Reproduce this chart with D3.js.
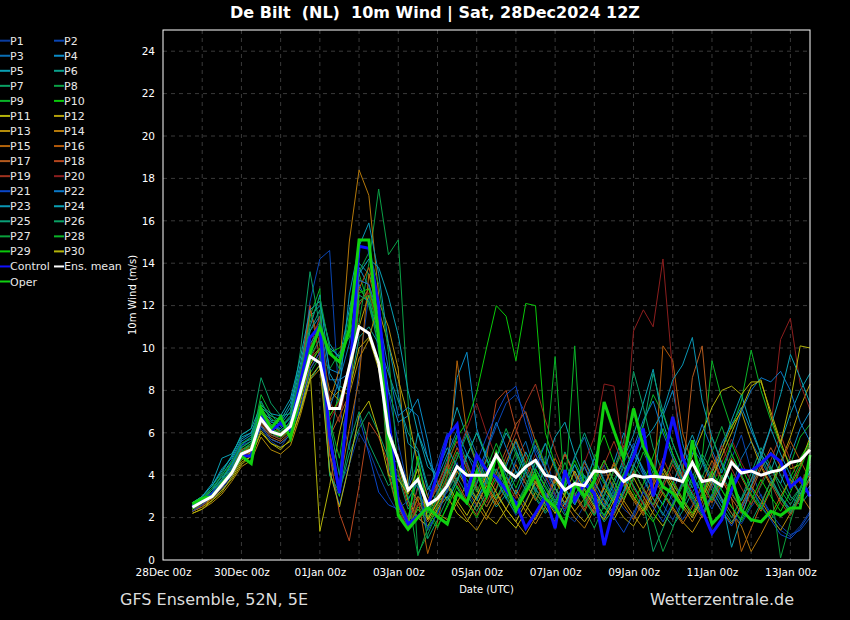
<!DOCTYPE html>
<html lang="en">
<head>
<meta charset="utf-8">
<title>De Bilt 10m Wind</title>
<script src="https://cdn.jsdelivr.net/npm/d3@7"></script>
<style>
    body { margin: 0; background: #000; }
    text { font-family: "DejaVu Sans", sans-serif; }
</style>
</head>
<body>
<script type="text/javascript">

    // run 28Dec2024 12Z, first step +6h, 6-hourly
    var firstTime = Date.UTC(2024, 11, 28, 18);
    var stepHours = 6;

    var yTicks = [0, 2, 4, 6, 8, 10, 12, 14, 16, 18, 20, 22, 24];
    var xTickLabels = ["28Dec 00z", "30Dec 00z", "01Jan 00z", "03Jan 00z", "05Jan 00z",
                       "07Jan 00z", "09Jan 00z", "11Jan 00z", "13Jan 00z"];

    var P1 = [2.3,2.6,2.9,3.3,3.9,4.8,5.3,6.2,5.6,5.3,6.0, 7.5,9.8,10.8,6.0,3.5,4.5,6.0,5.2,4.0,3.0,2.2,1.6,2.0, 1.5,2.2,3.4,4.6,3.2,2.5,3.8,4.3,3.0,2.1,2.8,3.6,4.9,3.4,2.2,1.8,2.6,3.9,4.5,3.1,2.4,2.0,3.3,4.2,3.6,2.8,1.9,2.6,3.4,4.1,2.9,2.2,1.7,2.5,3.1,2.0,1.4,1.1,1.6,2.3];
    var P2 = [2.4,2.8,3.2,3.8,4.4,5.4,5.6,6.9,6.4,6.2,6.8, 8.6,12.2,14.2,14.6,7.2,5.2,9.0,12.5,9.8,7.9,5.5,3.4,4.6, 3.0,4.6,6.0,5.3,4.4,3.6,5.1,6.3,7.4,7.8,6.9,5.2,4.3,3.1,2.5,3.4,4.0,2.7,2.0,3.1,4.6,5.5,4.1,3.3,2.6,1.9,2.8,3.9,3.2,2.4,3.5,4.8,5.9,4.2,3.0,2.2,1.6,1.2,1.4,2.0];
    var P3 = [2.5,2.7,3.1,3.5,4.3,5.2,5.0,6.3,5.9,5.8,6.6, 8.0,10.5,11.2,8.5,8.5,10.2,13.0,12.0,10.5,4.5,2.5,1.6,3.5, 2.0,2.9,3.7,4.8,6.1,5.0,3.8,2.9,3.5,4.7,5.6,4.1,3.0,2.3,3.6,4.9,5.8,4.4,3.2,2.6,3.9,5.0,4.0,2.9,2.1,3.2,4.5,5.3,4.6,3.5,2.7,3.4,4.8,5.6,4.7,3.8,3.0,2.4,2.9,3.5];
    var P4 = [2.6,2.9,3.3,4.0,4.7,5.6,5.9,7.0,6.5,6.4,7.0, 8.8,10.8,11.5,9.0,8.8,11.0,13.8,12.9,11.2,8.0,6.5,6.8,7.6, 5.6,3.1,4.5,8.6,9.8,6.2,4.8,3.7,4.4,5.6,4.2,3.3,2.8,3.9,5.0,4.1,3.0,2.2,3.4,4.6,6.0,5.2,4.3,3.5,6.8,8.0,5.5,4.0,3.1,4.2,5.5,6.4,7.2,6.1,5.0,4.3,3.6,4.9,6.2,7.0];
    var P5 = [2.7,3.0,3.6,4.8,5.0,5.8,6.0,7.2,6.8,6.6,7.4, 9.2,11.5,12.0,10.2,9.5,11.8,14.0,13.5,12.2,6.5,4.6,3.5,6.0, 4.4,4.0,5.6,7.2,5.8,4.5,3.6,4.8,6.0,5.2,4.1,3.2,4.4,5.8,6.5,5.0,3.9,3.0,2.5,3.6,4.8,5.9,7.4,9.0,6.5,5.0,4.0,3.1,2.4,3.6,5.2,6.6,7.8,6.3,5.0,4.2,5.5,6.9,8.0,8.8];
    var P6 = [2.5,2.9,3.4,3.9,4.5,5.5,5.7,7.5,6.6,6.0,6.4, 7.0,8.5,9.2,5.5,8.2,8.0,10.5,11.0,10.2,8.8,7.5,6.0,5.2, 3.5,2.7,3.2,4.1,5.0,4.4,3.3,2.5,3.1,4.2,3.6,2.9,2.2,2.8,3.7,4.5,3.4,2.6,1.8,2.4,3.3,4.5,3.8,2.9,2.2,1.6,2.3,3.2,4.0,3.3,2.5,1.8,2.4,3.5,4.3,5.1,4.0,3.0,2.6,3.2];
    var P7 = [2.6,3.0,3.5,4.1,4.9,5.9,6.2,8.6,7.4,6.8,6.9, 9.8,13.6,11.0,5.0,3.2,5.5,7.0,5.5,4.5,3.5,4.0,2.4,3.0, 2.6,3.5,4.8,5.9,4.6,3.4,2.5,3.3,4.6,5.7,4.4,3.4,2.6,3.8,5.1,4.0,2.9,2.1,3.0,4.3,5.6,8.9,7.2,5.3,4.1,3.2,2.5,3.6,4.8,3.9,2.8,2.0,2.9,4.1,5.3,4.4,3.3,2.6,3.4,4.6];
    var P8 = [2.4,2.7,3.1,3.6,4.0,4.8,5.0,6.5,5.9,5.7,6.1, 7.2,8.8,9.6,9.0,9.8,10.5,11.2,14.0,17.5,14.4,15.1,7.5,0.3, 1.2,2.3,3.5,4.4,3.8,2.9,3.6,4.9,6.2,5.0,3.8,3.0,2.3,3.1,4.0,3.2,2.4,1.5,2.6,3.8,4.6,3.5,2.7,1.9,0.4,1.5,2.8,3.9,5.0,4.2,3.3,2.5,1.8,2.6,3.5,4.4,3.6,2.8,3.4,4.2];
    var P9 = [2.5,2.8,3.2,3.7,4.3,5.2,5.5,7.8,6.9,6.3,6.7, 8.5,11.5,12.8,4.0,3.0,9.2,13.5,12.0,10.2,4.0,2.2,1.8,2.5, 2.1,1.5,2.6,3.8,4.9,6.0,5.0,4.1,3.2,2.5,3.4,4.6,5.5,4.3,3.3,2.6,3.5,4.4,3.6,2.7,3.8,5.0,6.4,7.8,6.9,5.5,4.4,3.6,4.8,9.4,7.6,6.2,7.5,9.9,8.0,6.6,5.4,4.5,5.8,6.4];
    var P10 = [2.6,2.9,3.3,3.8,4.6,5.3,5.6,7.0,6.3,6.1,6.5, 8.0,10.0,10.8,9.8,10.0,10.5,12.8,12.2,10.8,5.5,3.0,2.0,4.0, 2.2,3.0,4.4,5.8,6.5,7.9,10.0,12.0,11.5,9.4,12.1,12.0,6.0,4.5,3.4,2.6,3.5,4.8,5.9,4.6,3.5,2.8,3.6,4.9,6.2,5.0,3.9,3.0,2.2,3.1,4.3,5.5,4.4,3.4,2.5,1.9,2.8,3.9,4.8,5.6];
    var P11 = [2.3,2.5,2.8,3.2,3.9,4.6,4.9,6.0,5.5,5.3,5.6, 7.0,9.0,1.35,3.5,6.0,8.0,10.0,10.5,9.0,6.5,4.5,2.8,2.0, 1.6,2.4,3.0,2.2,1.8,2.6,3.5,2.8,2.0,1.5,2.3,3.2,2.5,1.8,2.7,3.6,4.4,3.3,2.5,1.9,2.8,3.9,3.0,2.2,1.6,2.5,3.7,4.9,6.0,7.2,8.0,8.2,7.8,8.4,8.4,7.0,5.6,4.3,4.5,5.8];
    var P12 = [2.4,2.6,2.9,3.4,4.0,4.7,5.1,6.3,5.7,5.5,5.9, 7.4,9.2,10.0,8.0,7.5,9.2,11.0,12.5,11.8,10.2,8.5,6.8,4.5, 3.0,2.2,1.9,2.7,3.6,2.9,2.1,1.7,2.4,3.3,2.6,1.9,2.8,3.7,3.0,2.3,1.8,2.5,3.4,2.7,2.0,1.6,2.4,3.5,4.4,3.6,2.8,2.1,3.0,4.1,5.2,6.3,7.0,5.6,4.4,3.5,4.6,5.8,7.2,8.3];
    var P13 = [2.2,2.4,2.7,3.1,3.7,4.4,4.7,5.8,5.2,5.0,5.4, 6.8,8.5,9.0,7.5,8.0,7.8,9.5,10.4,12.2,11.0,9.0,3.5,2.8, 1.9,2.7,3.5,2.6,1.9,1.4,2.2,3.1,2.4,1.8,1.2,2.0,2.9,3.8,3.0,2.3,2.9,3.8,4.7,3.7,2.8,2.1,1.5,2.3,3.2,2.5,1.8,1.3,2.1,3.0,2.3,1.7,2.6,3.5,2.8,2.0,1.4,2.2,3.1,3.9];
    var P14 = [2.5,2.8,3.1,3.6,4.2,5.1,5.3,6.8,6.1,5.9,6.2, 7.6,9.0,9.8,7.5,9.0,15.0,18.4,17.2,12.5,5.0,2.6,1.6,2.4, 1.8,2.5,3.3,4.2,3.4,2.6,1.9,2.8,3.9,3.1,2.3,1.7,2.5,3.4,2.7,2.0,1.5,2.4,3.5,4.5,3.6,2.8,2.1,3.0,4.1,3.3,2.5,1.8,2.7,3.7,2.9,2.2,1.6,0.4,1.2,2.1,3.0,3.8,3.1,2.4];
    var P15 = [2.3,2.5,2.9,3.4,4.0,4.9,5.2,6.7,6.0,5.8,6.1, 7.8,11.8,10.2,5.0,3.5,6.2,8.5,13.5,11.5,5.0,2.5,1.8,2.9, 0.3,1.8,4.0,9.4,6.0,4.5,3.5,2.6,3.4,4.5,3.6,2.8,3.7,4.8,3.9,3.0,2.3,3.2,4.3,3.4,2.6,1.9,2.8,3.9,3.1,2.4,1.7,2.5,3.6,4.7,3.8,2.9,0.4,1.5,2.6,3.7,2.9,2.2,3.0,3.9];
    var P16 = [2.4,2.7,3.0,3.5,4.1,5.0,5.4,6.6,6.2,6.0,6.4, 8.2,10.5,11.0,6.8,7.5,8.5,12.8,13.8,12.0,6.0,3.0,1.7,3.0, 2.3,3.1,4.2,5.3,4.3,3.3,2.5,3.4,4.6,5.7,4.6,3.6,2.8,3.8,5.0,4.0,3.1,2.4,3.5,4.6,3.7,2.9,2.2,3.2,10.1,9.4,6.0,4.5,3.5,2.7,3.6,4.8,3.9,3.0,2.3,3.3,4.5,5.6,4.7,3.8];
    var P17 = [2.3,2.6,3.0,3.6,4.2,4.9,5.1,6.4,5.8,5.6,6.0, 7.5,9.5,10.0,5.8,6.8,7.8,12.0,12.8,11.0,4.2,2.2,1.4,2.6, 2.8,3.6,4.5,3.7,2.8,2.1,3.0,4.1,5.2,6.4,7.0,5.6,4.4,3.4,2.6,3.5,4.6,3.7,2.8,2.1,3.1,4.2,3.4,2.6,3.6,4.8,3.9,8.6,10.1,5.0,3.8,2.9,2.2,3.2,4.3,5.3,4.4,3.5,4.4,5.5];
    var P18 = [2.5,2.8,3.2,3.7,4.3,5.2,5.4,7.2,6.4,6.0,6.3, 8.6,12.0,9.5,5.0,2.2,0.9,3.5,6.5,5.8,4.5,4.2,2.6,2.0, 2.6,3.4,4.3,3.5,2.7,3.6,4.8,7.5,8.0,6.2,4.9,3.8,2.9,3.9,5.0,4.0,3.0,2.2,3.1,4.2,5.4,4.3,3.3,2.5,3.4,4.5,3.6,2.7,2.0,2.9,3.9,3.1,2.4,3.4,4.5,3.6,2.7,2.1,2.9,3.8];
    var P19 = [2.4,2.6,3.0,3.5,4.1,4.8,5.2,6.5,5.9,5.7,6.2, 7.8,10.0,11.5,7.5,6.5,9.2,13.2,13.0,11.5,5.8,3.0,1.9,3.4, 2.7,3.5,4.6,5.6,4.5,3.5,2.7,3.7,4.9,6.0,7.4,8.3,6.6,5.2,4.0,3.1,2.4,3.4,4.5,5.6,4.4,3.4,2.6,3.6,4.8,3.8,2.9,2.2,3.2,4.3,5.4,4.3,3.4,2.6,3.6,4.7,5.9,4.7,3.6,4.5];
    var P20 = [2.5,2.7,3.1,3.6,4.2,5.0,5.3,6.6,6.0,5.8,6.2, 7.6,9.4,10.5,6.6,7.5,8.8,12.2,12.6,11.0,5.0,2.4,1.5,2.7, 2.0,2.8,3.9,5.0,6.2,7.4,6.0,4.8,3.7,2.9,3.9,5.0,4.0,3.1,2.4,3.4,4.6,5.8,8.3,8.2,4.9,10.8,11.8,11.0,14.2,8.8,4.0,3.2,2.5,3.5,4.6,5.7,4.6,3.7,4.8,6.2,10.4,11.4,8.3,7.1];
    var P21 = [2.3,2.6,3.0,3.4,4.0,4.9,5.2,6.3,5.7,5.5,5.9, 7.2,9.0,9.8,4.2,2.6,4.5,6.8,5.0,3.2,2.6,2.4,2.8,3.8, 1.4,2.2,3.3,4.4,3.5,4.6,5.8,6.9,7.8,8.2,6.4,5.0,3.9,3.0,2.3,3.3,4.4,3.5,2.6,2.0,1.3,2.2,3.2,2.5,1.8,2.7,3.7,2.9,2.2,3.1,2.3,1.6,2.5,3.4,2.6,1.9,1.2,1.0,1.5,2.2];
    var P22 = [2.5,2.8,3.2,3.8,4.5,5.4,5.8,6.9,6.3,6.2,6.7, 8.4,10.2,10.9,7.2,8.5,8.8,13.2,13.0,11.5,9.0,6.8,7.2,6.8, 4.8,3.9,5.0,6.1,5.0,4.0,5.2,6.5,5.3,4.2,3.3,4.3,5.5,4.4,3.4,2.6,3.6,4.8,3.8,2.9,4.0,5.3,6.6,7.5,6.0,4.8,3.8,5.0,6.4,5.2,4.1,5.4,7.0,8.0,8.6,8.4,8.9,8.0,6.5,5.6];
    var P23 = [2.6,3.0,3.5,4.3,4.8,5.7,6.0,7.1,6.6,6.5,7.2, 9.0,11.0,12.5,8.8,8.0,12.5,14.8,15.9,13.5,10.2,7.8,5.5,5.1, 3.3,4.2,5.3,4.4,3.5,2.8,3.8,5.0,4.0,3.1,4.2,5.4,4.3,3.4,2.6,3.6,4.7,3.7,2.9,2.2,3.2,4.4,5.6,6.2,7.0,8.5,9.2,10.5,7.5,5.8,4.5,3.6,2.8,3.8,5.0,6.2,5.0,4.0,3.1,4.2];
    var P24 = [2.7,3.0,3.5,4.2,4.9,5.9,6.2,7.3,6.9,6.8,7.6, 9.5,11.8,12.2,10.0,9.6,11.0,13.5,14.2,13.8,12.4,10.6,8.0,6.0, 4.8,3.6,2.8,3.7,4.9,6.0,4.8,3.8,2.9,3.9,5.1,4.1,3.2,2.5,3.4,4.5,3.6,2.8,2.1,3.0,4.1,5.2,4.2,3.3,2.6,3.6,4.8,5.9,4.7,3.7,2.9,0.6,2.0,3.5,4.8,6.3,7.8,9.7,8.6,7.4];
    var P25 = [2.5,2.8,3.3,3.8,4.4,5.3,5.6,7.0,6.4,6.1,6.5, 8.2,10.8,11.8,6.5,4.0,8.2,12.5,12.2,10.5,4.8,2.6,1.7,4.8, 2.3,3.2,4.3,3.4,2.6,3.6,4.7,3.8,2.9,2.2,3.2,4.3,3.5,2.7,3.7,4.8,6.0,4.8,3.7,2.8,3.8,5.0,6.3,8.8,7.0,5.5,4.3,3.4,4.5,5.8,4.6,3.6,2.8,3.8,4.9,3.9,3.0,2.3,3.3,4.4];
    var P26 = [2.4,2.7,3.1,3.7,4.3,5.1,5.5,6.8,6.2,5.9,6.3, 7.9,9.6,10.4,4.0,3.2,5.0,6.2,7.0,6.0,4.8,4.6,2.9,3.6, 1.0,1.9,2.9,3.9,3.1,2.3,3.2,4.3,3.4,2.6,3.5,4.6,3.7,2.8,2.1,3.0,4.0,3.2,2.4,3.3,4.4,3.5,2.7,0.4,1.5,2.6,3.6,2.8,2.1,3.0,4.0,3.2,2.4,1.8,2.7,3.7,2.9,2.2,3.0,3.9];
    var P27 = [2.6,2.9,3.4,4.0,4.6,5.5,5.8,7.4,6.7,6.3,6.8, 8.8,11.2,12.4,10.0,9.0,11.5,13.6,14.5,13.0,9.8,4.0,3.0,0.2, 1.5,2.6,3.7,4.8,5.9,4.7,3.7,2.9,3.9,5.1,4.1,3.2,2.5,3.5,4.6,3.6,2.8,2.1,3.1,4.2,5.3,4.3,3.3,2.6,3.6,4.7,3.7,2.9,3.9,5.1,6.3,5.0,4.0,3.1,2.4,3.4,0.1,1.8,3.3,4.6];
    var P28 = [2.5,2.8,3.2,3.7,4.3,5.1,5.4,6.9,6.2,6.0,6.4, 8.0,10.0,10.7,6.6,4.8,8.0,12.2,12.5,10.8,4.8,2.2,1.5,2.4, 2.0,2.9,4.0,5.1,4.1,3.2,4.3,5.5,4.4,3.4,4.5,5.7,4.5,9.6,3.0,10.1,2.5,3.6,4.7,3.7,2.9,3.9,5.1,4.1,3.2,2.5,3.5,4.6,3.7,2.8,3.8,5.0,4.0,3.1,2.4,3.4,4.5,3.6,4.6,5.6];
    var P29 = [2.4,2.7,3.0,3.6,4.2,5.0,5.3,6.7,6.0,5.8,6.2, 7.6,9.3,10.0,6.8,7.6,8.6,12.6,12.8,11.2,5.2,2.8,1.8,4.9, 2.4,1.6,2.5,3.5,2.7,2.0,2.9,3.9,3.1,2.3,3.2,4.3,3.4,2.6,3.6,4.7,3.7,2.8,2.1,3.0,4.1,3.2,2.4,1.8,2.7,3.7,2.9,2.2,3.1,4.2,3.3,2.5,1.9,2.8,3.8,3.0,2.3,3.2,4.3,5.4];
    var P30 = [2.2,2.4,2.8,3.3,3.8,4.5,4.9,6.1,5.5,5.2,5.7, 7.0,8.6,9.2,4.2,2.5,4.5,6.8,7.5,6.0,4.0,3.8,3.1,4.3, 1.9,2.7,3.6,2.8,2.1,3.0,4.0,3.2,2.4,1.8,2.7,3.7,2.9,2.2,3.1,4.2,3.3,2.5,1.9,2.8,3.8,3.0,2.3,3.2,4.3,3.4,2.6,2.0,2.9,3.9,4.9,6.0,7.1,8.2,8.5,6.8,5.5,7.5,10.1,10.0];

    var control = [2.5,2.8,3.1,3.6,4.2,4.9,4.9,6.75,6.1,6.45,6.1, 8.35,10.5,11.0,5.8,3.15,8.35,14.8,14.7,12.0,6.8,2.8,1.7,2.05, 2.5,4.1,5.8,6.4,3.0,4.95,4.25,3.9,3.3,2.7,1.5,2.2,3.0,1.5,4.25,2.8,3.6,3.15,0.7,2.5,3.8,4.9,6.2,3.0,4.5,6.75,4.8,3.9,2.35,1.25,1.9,3.3,4.25,4.2,4.55,5.0,4.65,3.45,3.85,3.0];
    var oper = [2.65,2.9,3.0,3.6,4.15,4.9,4.55,7.15,6.2,6.75,5.75, 7.9,9.75,11.0,9.75,9.35,10.85,15.1,15.1,10.4,6.0,2.1,1.45,2.0, 2.5,2.05,1.7,3.15,2.7,4.15,3.05,5.0,3.6,2.35,3.2,4.0,2.9,2.5,1.65,3.6,3.0,3.75,7.45,6.1,4.8,7.15,5.35,4.4,3.45,3.15,2.5,5.65,3.3,1.7,2.2,3.9,2.35,1.9,1.8,2.3,2.1,2.45,2.45,4.95];
    var ensMean = [2.49,2.75,2.99,3.54,4.1,5.0,5.2,6.65,6.05,5.9,6.3, 7.9,9.6,9.3,7.15,7.15,9.1,11.0,10.7,9.3,6.0,4.7,3.3,3.8, 2.6,2.9,3.5,4.4,4.0,4.0,4.0,4.95,4.25,3.9,4.4,4.7,4.0,3.9,3.3,3.6,3.5,4.2,4.15,4.25,3.7,4.0,3.9,3.95,3.9,3.85,3.7,4.6,3.7,3.8,3.5,4.6,4.1,4.2,4.0,4.15,4.25,4.6,4.7,5.2];

    var members = [P1, P2, P3, P4, P5, P6, P7, P8, P9, P10, P11, P12, P13, P14, P15,
                   P16, P17, P18, P19, P20, P21, P22, P23, P24, P25, P26, P27, P28, P29, P30];
    var memberColors = ["#0a3ca0", "#0a46b4", "#0a6eb4", "#0a8cc8", "#0aa0b4", "#0aa08c",
                        "#0aa064", "#0aa046", "#0ab428", "#0ac80a", "#b4b40a", "#b4a00a",
                        "#b48c0a", "#b4780a", "#b4640a", "#b45a0a", "#b45a1e", "#b4461e",
                        "#a0321e", "#8c1e1e", "#0a46c8", "#0a78c8", "#0a96b4", "#0aa0b4",
                        "#0aa078", "#0aa064", "#0aa03c", "#0ab428", "#0ac80a", "#b4b40a"];

    var width = 850;
    var height = 620;
    var plotLeft = 163, plotRight = 810, plotTop = 30, plotBottom = 560;

    var svg = d3.select("body").append("svg")
    .attr("width", width)
    .attr("height", height)
    .style("background", "#000");

    var x = d3.scaleUtc()
    .domain([new Date(Date.UTC(2024, 11, 28, 0)), new Date(Date.UTC(2025, 0, 13, 12))])
    .range([plotLeft, plotRight]);

    var y = d3.scaleLinear()
    .domain([0, 25])
    .range([plotBottom, plotTop]);

    function timeAt(i) {
        return new Date(firstTime + i * stepHours * 3600 * 1000);
    }

    // grid: one dashed line per day, one per 2 m/s
    var days = d3.range(1, 17).map(function (k) { return new Date(Date.UTC(2024, 11, 28 + k)); });
    svg.append("g").selectAll("line")
    .data(days)
    .enter()
    .append("line")
    .attr("x1", function (d) { return x(d); })
    .attr("x2", function (d) { return x(d); })
    .attr("y1", plotTop)
    .attr("y2", plotBottom)
    .attr("stroke", "#3a3a3a")
    .attr("stroke-dasharray", "4,4");

    svg.append("g").selectAll("line")
    .data(yTicks.slice(1))
    .enter()
    .append("line")
    .attr("x1", plotLeft)
    .attr("x2", plotRight)
    .attr("y1", function (d) { return y(d); })
    .attr("y2", function (d) { return y(d); })
    .attr("stroke", "#3a3a3a")
    .attr("stroke-dasharray", "4,4");

    // axes
    var xTickDates = xTickLabels.map(function (d, k) { return new Date(Date.UTC(2024, 11, 28 + 2 * k)); });
    var xAxis = svg.append("g")
    .attr("transform", "translate(0," + plotBottom + ")")
    .call(d3.axisBottom(x)
        .tickValues(xTickDates)
        .tickSize(0)
        .tickPadding(9)
        .tickFormat(function (d, i) { return xTickLabels[i]; }));

    var yAxis = svg.append("g")
    .attr("transform", "translate(" + plotLeft + ",0)")
    .call(d3.axisLeft(y)
        .tickValues(yTicks)
        .tickSize(0)
        .tickPadding(8));

    [xAxis, yAxis].forEach(function (g) {
        g.select(".domain").remove();
        g.selectAll("text")
        .attr("fill", "#fff")
        .attr("font-size", 10.5)
        .attr("font-family", "DejaVu Sans");
    });

    // series
    var line = d3.line()
    .x(function (d, i) { return x(timeAt(i)); })
    .y(function (d) { return y(d); });

    svg.append("g").selectAll("path")
    .data(members)
    .enter()
    .append("path")
    .attr("d", line)
    .attr("fill", "none")
    .attr("stroke", function (d, i) { return memberColors[i]; })
    .attr("stroke-width", 1);

    svg.append("path")
    .attr("d", line(control))
    .attr("fill", "none")
    .attr("stroke", "#1010ff")
    .attr("stroke-width", 3);

    svg.append("path")
    .attr("d", line(oper))
    .attr("fill", "none")
    .attr("stroke", "#10d010")
    .attr("stroke-width", 3);

    svg.append("path")
    .attr("d", line(ensMean))
    .attr("fill", "none")
    .attr("stroke", "#fff")
    .attr("stroke-width", 3);

    // frame
    svg.append("rect")
    .attr("x", plotLeft)
    .attr("y", plotTop)
    .attr("width", plotRight - plotLeft)
    .attr("height", plotBottom - plotTop)
    .attr("fill", "none")
    .attr("stroke", "#fff")
    .attr("stroke-width", 1);

    // legend
    var legendItems = [];
    members.forEach(function (m, i) {
        legendItems.push({ name: "P" + (i + 1), color: memberColors[i] });
    });
    legendItems.push({ name: "Control", color: "#1010ff" });
    legendItems.push({ name: "Ens. mean", color: "#fff" });
    legendItems.push({ name: "Oper", color: "#10d010" });

    var legend = svg.append("g").selectAll("g")
    .data(legendItems)
    .enter()
    .append("g")
    .attr("transform", function (d, i) {
        return "translate(" + (i % 2 ? 54 : 0) + "," + (40.7 + 15.05 * Math.floor(i / 2)) + ")";
    });

    legend.append("line")
    .attr("x1", 0)
    .attr("x2", 10)
    .attr("stroke", function (d) { return d.color; })
    .attr("stroke-width", 2);

    legend.append("text")
    .attr("x", 10)
    .attr("y", 4)
    .attr("fill", "#e8e8e8")
    .attr("font-size", 11)
    .text(function (d) { return d.name; });

    // titles
    svg.append("text")
    .attr("x", 435)
    .attr("y", 18)
    .attr("text-anchor", "middle")
    .attr("font-size", 16)
    .attr("font-weight", "bold")
    .attr("fill", "#fff")
    .style("white-space", "pre")
    .text("De Bilt  (NL)  10m Wind | Sat, 28Dec2024 12Z");

    svg.append("text")
    .attr("transform", "translate(136," + ((plotTop + plotBottom) / 2) + ") rotate(-90)")
    .attr("text-anchor", "middle")
    .attr("font-size", 10)
    .attr("fill", "#fff")
    .text("10m Wind (m/s)");

    svg.append("text")
    .attr("x", (plotLeft + plotRight) / 2)
    .attr("y", 593)
    .attr("text-anchor", "middle")
    .attr("font-size", 10)
    .attr("fill", "#fff")
    .text("Date (UTC)");

    svg.append("text")
    .attr("x", 120)
    .attr("y", 605)
    .attr("font-size", 16)
    .attr("fill", "#ddd")
    .text("GFS Ensemble, 52N, 5E");

    svg.append("text")
    .attr("x", 794)
    .attr("y", 605)
    .attr("text-anchor", "end")
    .attr("font-size", 16)
    .attr("fill", "#ddd")
    .text("Wetterzentrale.de");

</script>
</body>
</html>
